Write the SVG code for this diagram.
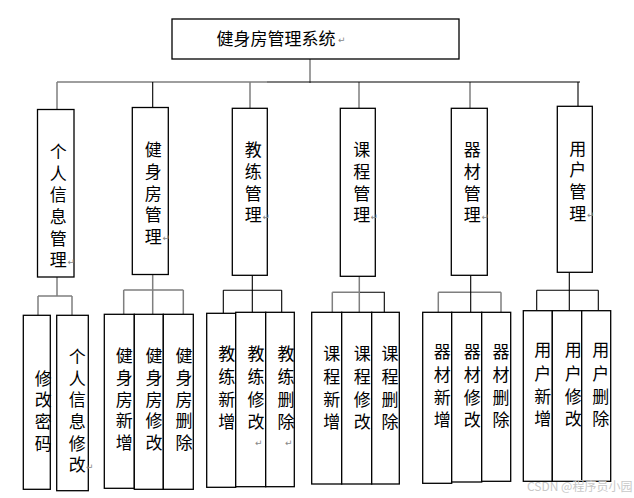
<svg xmlns="http://www.w3.org/2000/svg" width="634" height="498" viewBox="0 0 634 498">
<style>
.box{fill:#fff;stroke:#000;stroke-width:1.3}
.t{font-family:"Noto Sans CJK SC","Noto Sans",sans-serif;font-size:17px;text-anchor:middle;dominant-baseline:central;fill:#000}
.r{font-family:"DejaVu Sans",sans-serif;font-size:9px;fill:#888;dominant-baseline:central}
.g{stroke:#7f7f7f;stroke-width:1.5;fill:none}
.k{stroke:#000;stroke-width:1.1;fill:none}
.wm{font-family:"Noto Sans CJK SC","Noto Sans",sans-serif;font-size:12px;fill:#c8c8c8}
</style>
<rect width="634" height="498" fill="#fff"/>
<g id="connectors">
  <path class="g" d="M310 59V83M57 82H267M57 82V109M250 82V108M359 82V108M470 82V108"/>
  <path class="k" d="M267 82H580M152.7 82V108M578 82V106"/>
  <path class="g" d="M57 277V296M38 296H72M38 296V315M72 296V315"/>
  <path class="g" d="M152.7 274V314M123.7 290H183.3M123.7 290V314M183.3 290V314"/>
  <path class="k" d="M252.3 275V312M223.3 290.3H281.7M223.3 290.3V313M281.7 290.3V312"/>
  <path class="g" d="M359.3 276V312M332.3 292.3H360M332.3 292.3V312"/>
  <path class="k" d="M360 292.3H384.3V312"/>
  <path class="g" d="M438.3 292.3H501M438.3 292.3V312M501 292.3V312"/>
  <path class="k" d="M470.7 275V312"/>
  <path class="k" d="M569.3 272V310M536.7 290.3H598.3M536.7 290.3V310M598.3 290.3V310"/>
</g>
<g id="root">
  <rect class="box" x="172" y="19" width="287" height="40"/>
  <text class="t" x="276" y="37">健身房管理系统</text>
  <text class="r" x="338" y="40">↵</text>
</g>
<g id="n1">
  <rect class="box" x="37.5" y="109.5" width="36.5" height="167.5"/>
  <text class="t"><tspan x="58.3" y="150">个</tspan><tspan x="58.3" y="171.7">人</tspan><tspan x="58.3" y="193.3">信</tspan><tspan x="58.3" y="215">息</tspan><tspan x="58.3" y="236.7">管</tspan><tspan x="58.3" y="258.3">理</tspan></text>
  <text class="r" x="67.5" y="262">↵</text>
</g>
<g id="n2">
  <rect class="box" x="132.3" y="107.5" width="36" height="167"/>
  <text class="t"><tspan x="153.3" y="148.3">健</tspan><tspan x="153.3" y="170">身</tspan><tspan x="153.3" y="191.7">房</tspan><tspan x="153.3" y="213.3">管</tspan><tspan x="153.3" y="235">理</tspan></text>
  <text class="r" x="162.5" y="238">↵</text>
</g>
<g id="n3">
  <rect class="box" x="232.3" y="108.3" width="35" height="167"/>
  <text class="t"><tspan x="253.3" y="148.3">教</tspan><tspan x="253.3" y="170">练</tspan><tspan x="253.3" y="191.7">管</tspan><tspan x="253.3" y="213.3">理</tspan></text>
  <text class="r" x="262.5" y="217">↵</text>
</g>
<g id="n4">
  <rect class="box" x="340.3" y="108.3" width="35" height="168"/>
  <text class="t"><tspan x="361.7" y="148.3">课</tspan><tspan x="361.7" y="170">程</tspan><tspan x="361.7" y="191.7">管</tspan><tspan x="361.7" y="213.3">理</tspan></text>
  <text class="r" x="370.5" y="217">↵</text>
</g>
<g id="n5">
  <rect class="box" x="451.3" y="108.3" width="36" height="167"/>
  <text class="t"><tspan x="472.3" y="148.3">器</tspan><tspan x="472.3" y="170">材</tspan><tspan x="472.3" y="191.7">管</tspan><tspan x="472.3" y="213.3">理</tspan></text>
  <text class="r" x="481.5" y="217">↵</text>
</g>
<g id="n6">
  <rect class="box" x="557.3" y="106.3" width="35" height="166"/>
  <text class="t"><tspan x="577.7" y="146.7">用</tspan><tspan x="577.7" y="168.3">户</tspan><tspan x="577.7" y="190">管</tspan><tspan x="577.7" y="211.7">理</tspan></text>
  <text class="r" x="587" y="215">↵</text>
</g>
<g id="n1a">
  <rect class="box" x="23.3" y="315.3" width="27" height="174"/>
  <text class="t"><tspan x="43.3" y="376.7">修</tspan><tspan x="43.3" y="398.3">改</tspan><tspan x="43.3" y="420">密</tspan><tspan x="43.3" y="441.7">码</tspan></text>
</g>
<g id="n1b">
  <rect class="box" x="56.7" y="315.3" width="31.6" height="175.4"/>
  <text class="t"><tspan x="77.3" y="355">个</tspan><tspan x="77.3" y="376.7">人</tspan><tspan x="77.3" y="398.3">信</tspan><tspan x="77.3" y="420">息</tspan><tspan x="77.3" y="441.7">修</tspan><tspan x="77.3" y="463.3">改</tspan></text>
  <text class="r" x="86" y="467">↵</text>
</g>
<g id="n2a">
  <rect class="box" x="104.3" y="314.3" width="30" height="174"/>
  <text class="t"><tspan x="124.3" y="354.3">健</tspan><tspan x="124.3" y="376">身</tspan><tspan x="124.3" y="397.7">房</tspan><tspan x="124.3" y="419.3">新</tspan><tspan x="124.3" y="441">增</tspan></text>
</g>
<g id="n2b">
  <rect class="box" x="134.3" y="314.3" width="29" height="175"/>
  <text class="t"><tspan x="154" y="354.3">健</tspan><tspan x="154" y="376">身</tspan><tspan x="154" y="397.7">房</tspan><tspan x="154" y="419.3">修</tspan><tspan x="154" y="441">改</tspan></text>
</g>
<g id="n2c">
  <rect class="box" x="163.3" y="314.3" width="30" height="175"/>
  <text class="t"><tspan x="184" y="354.3">健</tspan><tspan x="184" y="376">身</tspan><tspan x="184" y="397.7">房</tspan><tspan x="184" y="419.3">删</tspan><tspan x="184" y="441">除</tspan></text>
</g>
<g id="n3a">
  <rect class="box" x="206.7" y="313.3" width="29" height="174"/>
  <text class="t"><tspan x="226.7" y="352">教</tspan><tspan x="226.7" y="375">练</tspan><tspan x="226.7" y="397.5">新</tspan><tspan x="226.7" y="419.5">增</tspan></text>
</g>
<g id="n3b">
  <rect class="box" x="235.7" y="312.3" width="30" height="174.4"/>
  <text class="t"><tspan x="256" y="352">教</tspan><tspan x="256" y="375">练</tspan><tspan x="256" y="397.5">修</tspan><tspan x="256" y="419.5">改</tspan></text>
  <text class="r" x="255" y="443">↵</text>
</g>
<g id="n3c">
  <rect class="box" x="265.7" y="312.3" width="28.6" height="174.4"/>
  <text class="t"><tspan x="286" y="352">教</tspan><tspan x="286" y="375">练</tspan><tspan x="286" y="397.5">删</tspan><tspan x="286" y="419.5">除</tspan></text>
  <text class="r" x="285" y="443">↵</text>
</g>
<g id="n4a">
  <rect class="box" x="311.7" y="312.3" width="30" height="171.7"/>
  <text class="t"><tspan x="331.7" y="351.7">课</tspan><tspan x="331.7" y="375">程</tspan><tspan x="331.7" y="397.5">新</tspan><tspan x="331.7" y="419.5">增</tspan></text>
</g>
<g id="n4b">
  <rect class="box" x="341.7" y="312.3" width="30" height="171.7"/>
  <text class="t"><tspan x="362.3" y="351.7">课</tspan><tspan x="362.3" y="375">程</tspan><tspan x="362.3" y="397.5">修</tspan><tspan x="362.3" y="419.5">改</tspan></text>
</g>
<g id="n4c">
  <rect class="box" x="371.7" y="312.3" width="27.6" height="171.7"/>
  <text class="t"><tspan x="390" y="351.7">课</tspan><tspan x="390" y="375">程</tspan><tspan x="390" y="397.5">删</tspan><tspan x="390" y="419.5">除</tspan></text>
</g>
<g id="n5a">
  <rect class="box" x="422.7" y="312.3" width="29" height="171"/>
  <text class="t"><tspan x="442.3" y="350">器</tspan><tspan x="442.3" y="373.3">材</tspan><tspan x="442.3" y="396.3">新</tspan><tspan x="442.3" y="418.3">增</tspan></text>
</g>
<g id="n5b">
  <rect class="box" x="451.7" y="312.3" width="30" height="169.7"/>
  <text class="t"><tspan x="472.3" y="350">器</tspan><tspan x="472.3" y="373.3">材</tspan><tspan x="472.3" y="396.3">修</tspan><tspan x="472.3" y="418.3">改</tspan></text>
</g>
<g id="n5c">
  <rect class="box" x="481.7" y="312.3" width="29" height="169"/>
  <text class="t"><tspan x="501" y="350">器</tspan><tspan x="501" y="373.3">材</tspan><tspan x="501" y="396.3">删</tspan><tspan x="501" y="418.3">除</tspan></text>
</g>
<g id="n6a">
  <rect class="box" x="523.3" y="310.7" width="29" height="170.6"/>
  <text class="t"><tspan x="542.7" y="348.3">用</tspan><tspan x="542.7" y="371.7">户</tspan><tspan x="542.7" y="394.5">新</tspan><tspan x="542.7" y="416.7">增</tspan></text>
</g>
<g id="n6b">
  <rect class="box" x="552.3" y="310.7" width="29.4" height="170.6"/>
  <text class="t"><tspan x="573.3" y="348.3">用</tspan><tspan x="573.3" y="371.7">户</tspan><tspan x="573.3" y="394.5">修</tspan><tspan x="573.3" y="416.7">改</tspan></text>
</g>
<g id="n6c">
  <rect class="box" x="581.7" y="310.7" width="29" height="170.6"/>
  <text class="t"><tspan x="600.7" y="348.3">用</tspan><tspan x="600.7" y="371.7">户</tspan><tspan x="600.7" y="394.5">删</tspan><tspan x="600.7" y="416.7">除</tspan></text>
</g>
<text class="wm" x="527" y="491">CSDN @程序员小园</text>
</svg>
